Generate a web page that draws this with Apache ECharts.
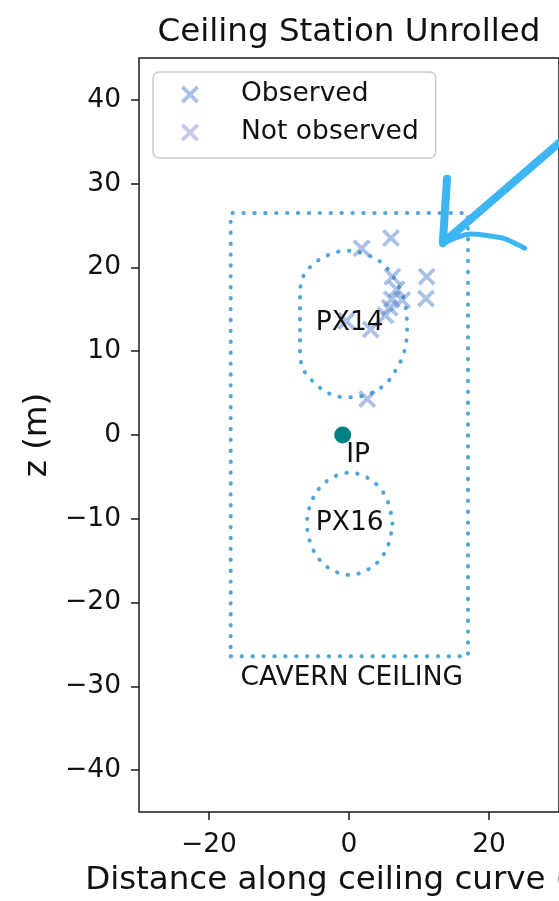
<!DOCTYPE html>
<html>
<head>
<meta charset="utf-8">
<script src="https://cdn.jsdelivr.net/npm/echarts@6/dist/echarts.min.js"></script>
<style>
  html, body { margin: 0; padding: 0; background: #ffffff; }
  #chart { width: 559px; height: 901px; }
</style>
</head>
<body>
<div id="chart"></div>
<script>
// Axis ticks
const xTicks = [-20, 0, 20];
const zTicks = [-40, -30, -20, -10, 0, 10, 20, 30, 40];

// Station positions on the unrolled ceiling: [distance along curve, z]
const observed = [
  [1.8, 22.3], [6.0, 23.5], [6.2, 18.9], [11.1, 18.9], [11.0, 16.3],
  [6.8, 17.4], [6.1, 16.2], [7.6, 16.1], [5.8, 15.2], [5.2, 14.3],
  [3.1, 12.6], [-0.4, 13.6], [2.6, 4.3]
];
const notObserved = [];

// Interaction point
const ipPoint = [[-0.9, 0]];

// Cavern ceiling outline
const cavernOutline = [[-16.9, -26.4], [17.0, -26.4], [17.0, 26.5], [-16.9, 26.5], [-16.9, -26.4]];

// PX14 shaft opening projected on the ceiling
const px14Outline = [
  [-7.0, 12.5], [-7.0, 16.5], [-6.6, 18.8], [-5.1, 20.4], [-2.6, 21.6],
  [-0.3, 22.0], [2.6, 21.5], [4.9, 20.4], [6.8, 18.2], [8.0, 15.7],
  [8.3, 12.5], [7.8, 9.7], [6.5, 7.5], [5.1, 6.0], [2.6, 4.8],
  [-0.5, 4.5], [-3.0, 5.0], [-4.9, 6.2], [-6.5, 7.8], [-7.0, 10.0], [-7.0, 12.5]
];

// PX16 shaft opening
const px16Outline = [
  [6.2, -10.6], [5.7, -8.3], [4.4, -6.3], [2.4, -5.0], [0.1, -4.5],
  [-2.2, -5.0], [-4.2, -6.3], [-5.5, -8.3], [-6.0, -10.6], [-5.5, -12.9],
  [-4.2, -14.9], [-2.2, -16.2], [0.1, -16.7], [2.4, -16.2], [4.4, -14.9],
  [5.7, -12.9], [6.2, -10.6]
];

// Text annotations
const annotationText = ['PX14', 'PX16', 'IP', 'CAVERN CEILING'];
const annotationPos = [[0.1, 13.4], [0.1, -10.5], [1.3, -2.4], [0.4, -29.0]];

// Pointer arrow (shaft + left barb, right barb)
const arrowShaft = [[31.6, 36.0], [13.4, 22.9], [14.0, 30.6]];
const arrowBarb = [[13.4, 22.9], [17.3, 24.0], [22.0, 23.5], [25.1, 22.3]];

const FONT = 'DejaVu Sans';
const crossPath = 'path://M1.5,0L5,3.5L8.5,0L10,1.5L6.5,5L10,8.5L8.5,10L5,6.5L1.5,10L0,8.5L3.5,5L0,1.5Z';
const dotted = { color: '#51a6d9', width: 4, type: [0.4, 10.5], cap: 'round' };
const minus = v => String(v).replace('-', '\u2212');

const chart = echarts.init(document.getElementById('chart'), null, { renderer: 'canvas' });

chart.setOption({
  animation: false,
  backgroundColor: '#ffffff',
  title: {
    text: 'Ceiling Station Unrolled',
    left: 349,
    textAlign: 'center',
    top: 16,
    padding: 0,
    textStyle: { fontFamily: FONT, fontSize: 32.5, fontWeight: 'normal', color: '#111' }
  },
  grid: {
    left: 139, right: 0, top: 58, bottom: 89,
    outerBoundsMode: 'none', containLabel: false,
    show: true, borderColor: '#1a1a1a', borderWidth: 1.5, backgroundColor: 'transparent'
  },
  legend: {
    data: ['Observed', 'Not observed'],
    orient: 'vertical',
    left: 153, top: 72,
    padding: [9, 17, 12, 28],
    itemWidth: 18, itemHeight: 18, itemGap: 11,
    backgroundColor: 'rgba(255,255,255,0.85)',
    borderColor: '#cccccc', borderWidth: 1.5, borderRadius: 6,
    textStyle: { fontFamily: FONT, fontSize: 26.5, color: '#111', padding: [0, 0, 0, 37] }
  },
  xAxis: {
    type: 'value', min: -30, max: 30,
    axisLine: { show: false, onZero: false },
    splitLine: { show: false },
    axisTick: { show: true, length: 8, customValues: xTicks, lineStyle: { color: '#1a1a1a', width: 1.5 } },
    axisLabel: { customValues: xTicks, fontFamily: FONT, fontSize: 26.5, color: '#111', margin: 20, formatter: minus },
    name: 'Distance along ceiling curve (m)',
    nameLocation: 'middle', nameGap: 52,
    nameTextStyle: { fontFamily: FONT, fontSize: 32.5, color: '#111' }
  },
  yAxis: {
    type: 'value', min: -45, max: 45,
    axisLine: { show: false, onZero: false },
    splitLine: { show: false },
    axisTick: { show: true, length: 8, customValues: zTicks, lineStyle: { color: '#1a1a1a', width: 1.5 } },
    axisLabel: { customValues: zTicks, fontFamily: FONT, fontSize: 26.5, color: '#111', margin: 18, formatter: minus },
    name: 'z (m)',
    nameLocation: 'middle', nameGap: 79,
    nameTextStyle: { fontFamily: FONT, fontSize: 32.5, color: '#111' }
  },
  series: [
    { name: 'cavern', type: 'line', data: cavernOutline, symbol: 'none', lineStyle: dotted, z: 1, silent: true },
    { name: 'px14', type: 'line', data: px14Outline, symbol: 'none', smooth: 0.35, lineStyle: dotted, z: 1, silent: true },
    { name: 'px16', type: 'line', data: px16Outline, symbol: 'none', smooth: 0.35, lineStyle: dotted, z: 1, silent: true },
    {
      name: 'Observed', type: 'scatter', data: observed, symbol: crossPath, symbolSize: 18,
      itemStyle: { color: 'rgba(80,125,200,0.48)', opacity: 1 }, z: 3
    },
    {
      name: 'Not observed', type: 'scatter', data: notObserved, symbol: crossPath, symbolSize: 18,
      itemStyle: { color: 'rgba(150,150,205,0.5)', opacity: 1 }, z: 3
    },
    {
      name: 'IP', type: 'scatter', data: ipPoint, symbol: 'circle', symbolSize: 17,
      itemStyle: { color: '#008080', opacity: 1 }, z: 4
    },
    {
      name: 'annotations', type: 'scatter', symbol: 'circle', symbolSize: 1, silent: true,
      itemStyle: { color: 'rgba(0,0,0,0)', opacity: 1 }, z: 5,
      data: annotationPos.map((p, i) => ({ value: p, name: annotationText[i] })),
      label: {
        show: true, position: 'inside', formatter: '{b}',
        fontFamily: FONT, fontSize: 26.5, color: '#111', opacity: 1
      }
    },
    {
      name: 'arrow', type: 'line', data: arrowShaft, symbol: 'none', clip: false, silent: true, z: 6,
      lineStyle: { color: '#3db5f2', width: 8, cap: 'round', join: 'round' }
    },
    {
      name: 'arrowBarb', type: 'line', data: arrowBarb, symbol: 'none', smooth: 0.2, clip: false, silent: true, z: 6,
      lineStyle: { color: '#3db5f2', width: 5, cap: 'round', join: 'round' }
    }
  ]
});
</script>
</body>
</html>
